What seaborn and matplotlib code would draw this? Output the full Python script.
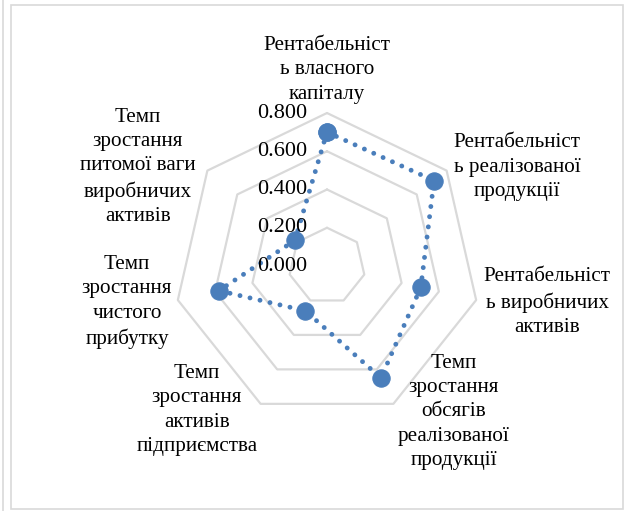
import numpy as np
import pandas as pd
import seaborn as sns
import matplotlib.pyplot as plt
from matplotlib.patches import Rectangle
from matplotlib.lines import Line2D

sns.set_style("white")
plt.rcParams["font.family"] = ["Liberation Serif", "DejaVu Serif"]

# Data
categories = ["Рентабельніст\nь власного\nкапіталу",
              "Рентабельніст\nь реалізованої\nпродукції",
              "Рентабельніст\nь виробничих\nактивів",
              "Темп\nзростання\nобсягів\nреалізованої\nпродукції",
              "Темп\nзростання\nактивів\nпідприємства",
              "Темп\nзростання\nчистого\nприбутку",
              "Темп\nзростання\nпитомої ваги\nвиробничих\nактивів"]
values = [0.700, 0.716, 0.503, 0.650, 0.260, 0.580, 0.215]
ring_values = [0.2, 0.4, 0.6, 0.8]
tick_labels = ["0.000", "0.200", "0.400", "0.600", "0.800"]
tick_values = [0.0, 0.2, 0.4, 0.6, 0.8]

n = len(categories)
theta = np.linspace(0, 2 * np.pi, n, endpoint=False)
theta_closed = np.append(theta, 2 * np.pi)
df = pd.DataFrame({"theta": theta_closed, "value": values + values[:1]})

fig = plt.figure(figsize=(6.25, 5.11), dpi=100)
W, H = 625, 511
cx, cy, R = 327, 266, 153
ax = fig.add_axes([(cx - R) / W, (H - cy - R) / H, 2 * R / W, 2 * R / H], projection="polar")
ax.set_theta_zero_location("N")
ax.set_theta_direction(-1)
ax.set_ylim(0, 0.8)
ax.grid(False)
ax.set_xticks([])
ax.set_yticks([])
ax.spines["polar"].set_visible(False)
ax.set_facecolor("none")

# heptagon rings
for r in ring_values:
    ax.plot(theta_closed, [r] * (n + 1), color="#d9d9d9", lw=1.6, zorder=1, clip_on=False)

colour = "#4a7ebb"
sns.lineplot(data=df, x="theta", y="value", ax=ax, sort=False, color=colour,
             linestyle=(0, (0.01, 2.1)), linewidth=3.5, dash_capstyle="round",
             marker="o", markersize=12.5, markeredgecolor=colour,
             markerfacecolor=colour, zorder=3, clip_on=False)
ax.set_xlabel("")
ax.set_ylabel("")

# radial tick labels
for v, lab in zip(tick_values, tick_labels):
    ax.annotate(lab, xy=(0, v), xytext=(-14, 0), textcoords="offset points",
                ha="right", va="center", fontsize=16, color="#000000",
                annotation_clip=False)

# category labels (pixel centres)
label_pos = [(327, 70), (517, 167), (547, 302), (454, 412),
             (197, 410), (127, 302), (138, 167)]
for lab, (px, py) in zip(categories, label_pos):
    fig.text(px / W, 1 - py / H, lab, ha="center", va="center", fontsize=15.2,
             linespacing=1.37, color="#000000")

# frame
fig.add_artist(Rectangle((11 / W, 1 - 509 / H), 612 / W, 504 / H, transform=fig.transFigure,
                         fill=False, edgecolor="#d9d9d9", lw=1.2))
fig.add_artist(Line2D([3 / W, 3 / W], [0, 1], transform=fig.transFigure,
                      color="#d9d9d9", lw=1.2))

fig.savefig("out.png", dpi=100)
